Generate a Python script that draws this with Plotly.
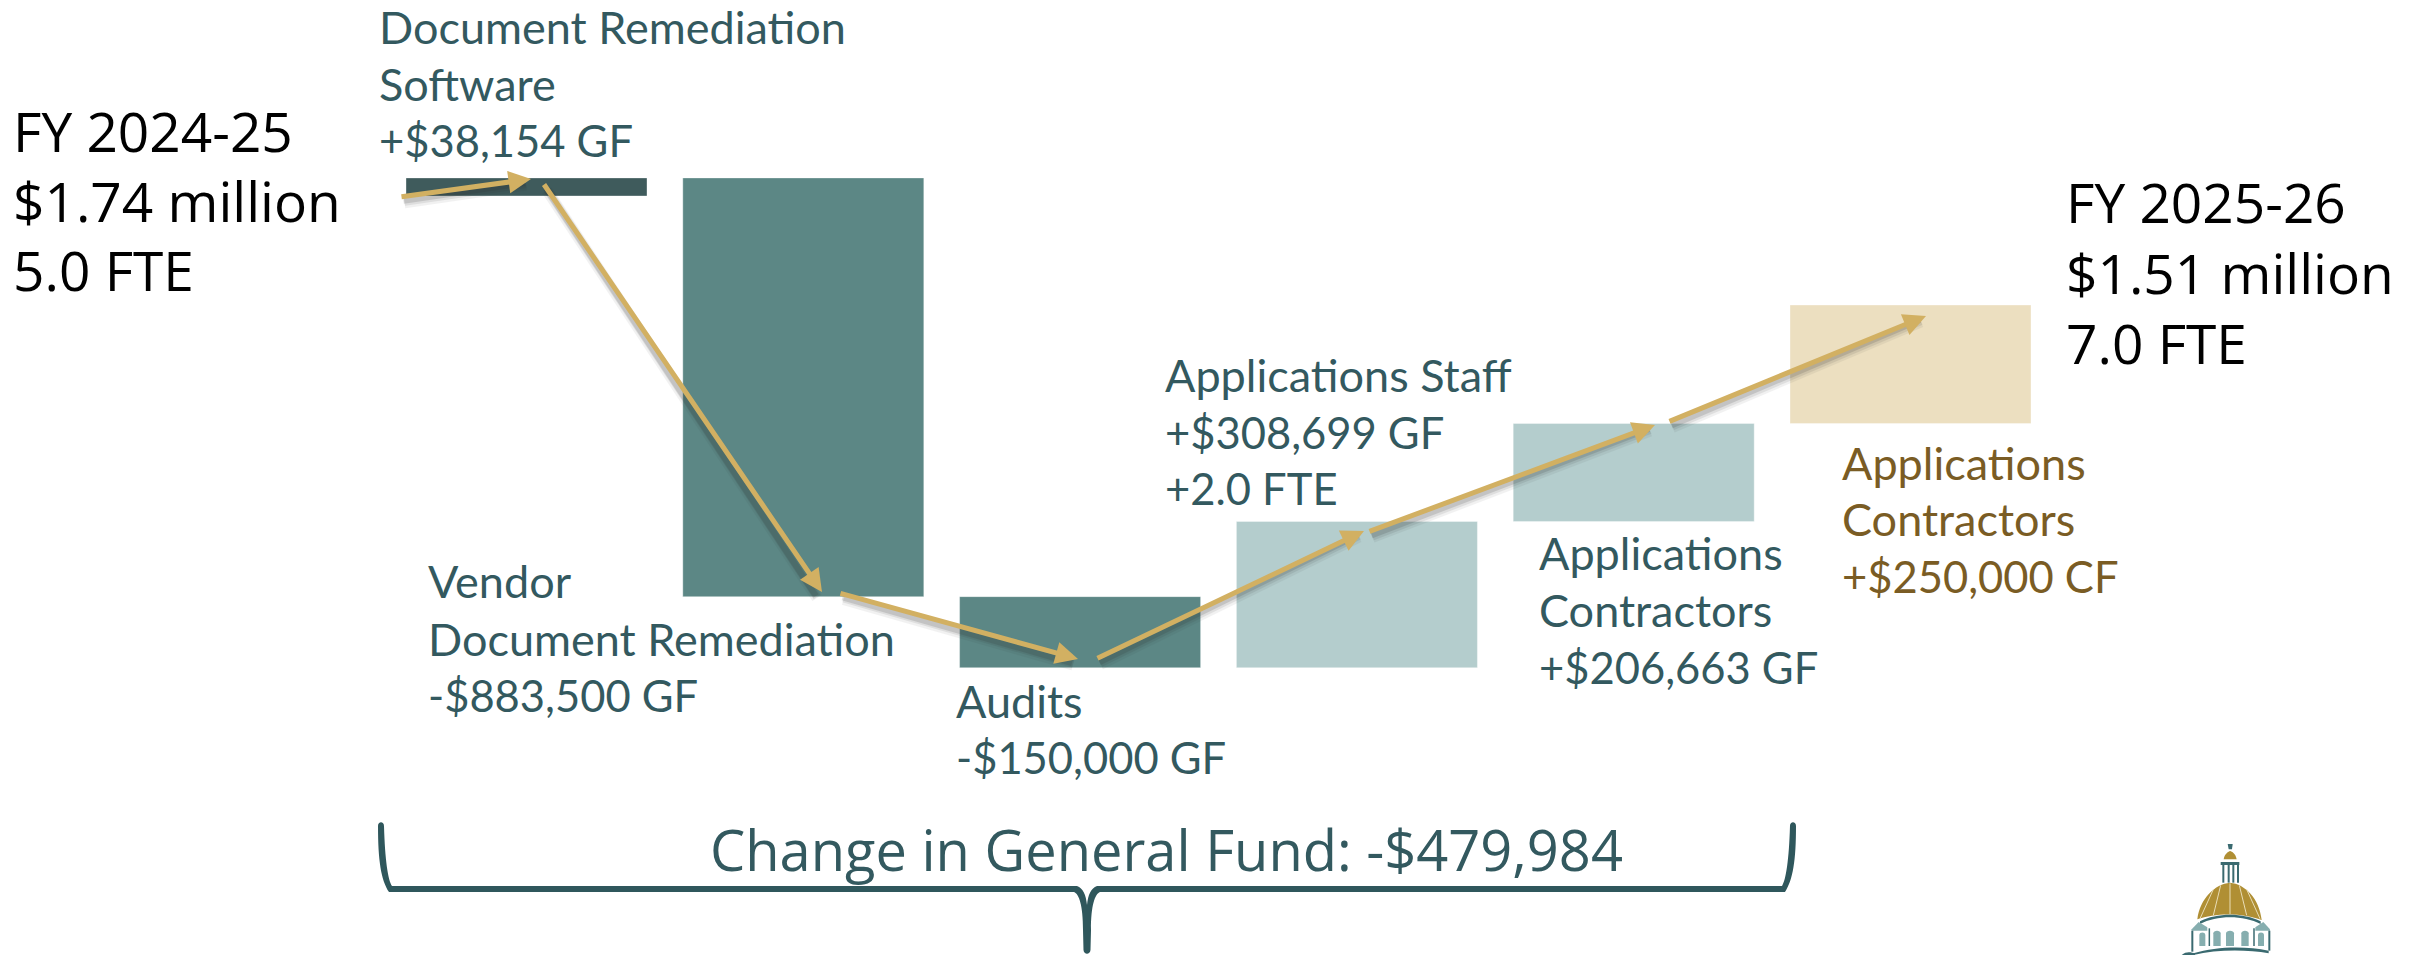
import plotly.graph_objects as go

W, H = 2425, 955

# ---- data ----
categories = ["Document Remediation Software", "Vendor Document Remediation", "Audits",
              "Applications Staff", "Applications Contractors GF", "Applications Contractors CF"]
start_value = 1740000
changes = [38154, -883500, -150000, 308699, 206663, 250000]
bar_colors = ["#3F5B5C", "#5C8785", "#5C8785", "#B4CDCD", "#B4CDCD", "#ECDFC0"]

teal = "#33595F"
brown = "#7A5C24"
black = "#000000"
gold = "#D2B062"

# text blocks: left x, colour, font, size, lines with centre y
label_x = [377, 426, 954, 1163, 1537, 1840, 11, 2064]
label_lines = [
    ["Document Remediation", "Software", "+$38,154 GF"],
    ["Vendor", "Document Remediation", "-$883,500 GF"],
    ["Audits", "-$150,000 GF"],
    ["Applications Staff", "+$308,699 GF", "+2.0 FTE"],
    ["Applications", "Contractors", "+$206,663 GF"],
    ["Applications", "Contractors", "+$250,000 CF"],
    ["FY 2024-25", "$1.74 million", "5.0 FTE"],
    ["FY 2025-26", "$1.51 million", "7.0 FTE"],
]
label_y = [
    [27, 84, 140], [581, 639, 695], [701, 757], [375, 432, 488],
    [553, 610, 667], [463, 519, 576], [130, 200, 270], [202, 272, 343],
]
label_color = [teal, teal, teal, teal, teal, brown, black, black]
label_font = ["Lato"] * 6 + ["Open Sans"] * 2
label_size = [45] * 6 + [55] * 2
number_size = 43.5
total_text = "Change in General Fund: -$479,984"

# arrows: tail and tip in page pixels
arrows = [
    (400, 197, 531, 179, 5),
    (543, 183, 822, 592, 5),
    (839, 593, 1078, 659, 5),
    (1096, 659, 1364, 531, 5),
    (1368, 532, 1655, 425, 5),
    (1668, 422, 1926, 316, 5),
]

# ---- waterfall geometry from the values ----
bases, heights = [], []
level = start_value
for c in changes:
    heights.append(abs(c))
    bases.append(level if c >= 0 else level + c)
    level += c

px_per_dollar = 1 / 2110
y_top = start_value + 196 / px_per_dollar
y_bottom = start_value - (H - 196) / px_per_dollar
x0_px, step_px = 526.5, 276.8

fig = go.Figure(go.Bar(
    x=categories, y=heights, base=bases,
    marker=dict(color=bar_colors, line=dict(color="rgba(255,255,255,0.35)", width=1)),
    width=241 / step_px, hoverinfo="skip",
))


def nx(x):
    return x / W


def ny(y):
    return 1 - y / H


annotations = []
for x, lines, ys, col, fam, size in zip(label_x, label_lines, label_y, label_color, label_font, label_size):
    for line, y in zip(lines, ys):
        s = number_size if fam == "Lato" and line[0] in "+-" else size
        annotations.append(dict(
            text=line, xref="paper", yref="paper", x=nx(x), y=ny(y),
            xanchor="left", yanchor="middle", showarrow=False,
            font=dict(family=fam, size=s, color=col),
        ))
annotations.append(dict(
    text=total_text, xref="paper", yref="paper", x=nx(1166), y=ny(849),
    xanchor="center", yanchor="middle", showarrow=False,
    font=dict(family="Open Sans", size=56, color=teal),
))

# soft shadows then the arrows
for dx, dy, alpha, extra in [(3, 6, 0.06, 6), (3, 5, 0.09, 3), (2, 4, 0.14, 1)]:
    for x0, y0, x1, y1, w in arrows:
        annotations.append(dict(
            text="", xref="paper", yref="paper", x=nx(x1 - 8 + dx), y=ny(y1 + dy),
            ax=x0 - x1 + 8, ay=y0 - y1, axref="pixel", ayref="pixel", showarrow=True,
            arrowhead=0, arrowwidth=w + extra, arrowcolor=f"rgba(40,40,40,{alpha})",
        ))
for x0, y0, x1, y1, w in arrows:
    annotations.append(dict(
        text="", xref="paper", yref="paper", x=nx(x1), y=ny(y1),
        ax=x0 - x1, ay=y0 - y1, axref="pixel", ayref="pixel", showarrow=True,
        arrowhead=2, arrowsize=0.9, arrowwidth=w, arrowcolor=gold, standoff=0,
    ))


def path(cmds):
    out = []
    for c in cmds:
        op, pts = c[0], c[1:]
        out.append(op + " " + " ".join(f"{nx(p[0]):.5f},{ny(p[1]):.5f}" for p in pts))
    return " ".join(out) + " Z"


shapes = []
# brace as a tapering filled outline, mirrored about its centre
cx = 1087


def mx(p):
    return (2 * cx - p[0], p[1])


brace = [
    ("M", (378, 826)), ("C", (378, 821), (384, 821), (384, 826)),
    ("C", (385, 860), (388, 880), (392, 886)),
    ("L", (1077, 886)), ("C", (1083, 888), (1086, 895), (cx, 905)),
    ("C", mx((1086, 895)), mx((1083, 888)), mx((1077, 886))),
    ("L", mx((392, 886))),
    ("C", mx((388, 880)), mx((385, 860)), mx((384, 826))),
    ("C", mx((384, 821)), mx((378, 821)), mx((378, 826))),
    ("C", mx((378, 860)), mx((381, 880)), mx((389, 892))),
    ("L", mx((1074, 892))), ("C", mx((1079, 894)), mx((1083, 905)), mx((1083, 930))),
    ("L", mx((1083.5, 950))), ("C", mx((1084, 955)), (1084, 955), (1083.5, 950)),
    ("L", (1083, 930)), ("C", (1083, 905), (1079, 894), (1074, 892)),
    ("L", (389, 892)), ("C", (381, 880), (378, 860), (378, 826)),
]
shapes.append(dict(type="path", xref="paper", yref="paper", path=path(brace),
                   fillcolor="#2F575C", line=dict(width=0)))


# capitol logo, in coordinates of a 3x crop
def L(x, y):
    return (2150 + x / 3, 820 + y / 3)


def fill(cmds, color):
    conv = [(c[0],) + tuple(L(*p) for p in c[1:]) for c in cmds]
    shapes.append(dict(type="path", xref="paper", yref="paper", path=path(conv),
                       fillcolor=color, line=dict(width=0)))


def stroke(a, b, color, w):
    pa, pb = L(*a), L(*b)
    shapes.append(dict(type="line", xref="paper", yref="paper",
                       x0=nx(pa[0]), y0=ny(pa[1]), x1=nx(pb[0]), y1=ny(pb[1]),
                       line=dict(color=color, width=w)))


ldark, lmid, lgold = "#3A6A70", "#86AEAF", "#B08F34"
fill([("M", (233, 72)), ("L", (248, 72)), ("L", (246, 88)), ("L", (236, 88))], ldark)
fill([("M", (221, 118)), ("C", (224, 100), (236, 95), (240, 93)), ("C", (246, 95), (257, 100), (260, 118))], lgold)
fill([("M", (212, 126)), ("L", (268, 126)), ("L", (268, 135)), ("L", (212, 135))], ldark)
for x in (220, 236, 250, 264):
    stroke((x, 133), (x, 188), ldark, 2)
fill([("M", (142, 298)), ("C", (150, 235), (195, 192), (240, 188)),
      ("C", (285, 192), (328, 235), (335, 300)), ("C", (280, 278), (195, 278), (142, 298))], lgold)
for a, b in [((240, 190), (240, 282)), ((212, 196), (190, 286)), ((268, 196), (290, 286)),
             ((190, 208), (150, 296)), ((290, 208), (330, 296))]:
    stroke(a, b, "#E9DDB6", 1)
fill([("M", (150, 312)), ("C", (200, 285), (280, 285), (332, 312)),
      ("L", (332, 304)), ("C", (280, 278), (200, 278), (150, 304))], ldark)
fill([("M", (125, 328)), ("L", (146, 306)), ("L", (172, 322)), ("L", (172, 332)), ("L", (125, 332))], lmid)
fill([("M", (360, 328)), ("L", (340, 306)), ("L", (316, 322)), ("L", (316, 332)), ("L", (360, 332))], lmid)
for x, half in ((157, 9), (201, 11), (240, 12), (285, 11), (333, 9)):
    top = 335 if x in (157, 333) else 330
    fill([("M", (x - half, 378)), ("L", (x - half, top + 10)),
          ("C", (x - half, top), (x + half, top), (x + half, top + 10)), ("L", (x + half, 378))], lmid)
stroke((127, 332), (127, 395), ldark, 2)
stroke((358, 332), (358, 392), ldark, 2)
stroke((178, 325), (178, 378), ldark, 1.5)
stroke((312, 325), (312, 378), ldark, 1.5)
fill([("M", (130, 400)), ("C", (200, 378), (290, 378), (356, 392)),
      ("L", (356, 400)), ("C", (290, 388), (200, 388), (130, 405))], ldark)
fill([("M", (95, 405)), ("C", (110, 392), (125, 398), (135, 400)), ("L", (135, 405))], ldark)

fig.update_layout(
    width=W, height=H, margin=dict(l=0, r=0, t=0, b=0),
    paper_bgcolor="white", plot_bgcolor="white", showlegend=False,
    hovermode=False, annotations=annotations, shapes=shapes,
    xaxis=dict(visible=False, type="category", categoryorder="array", categoryarray=categories,
               range=[-x0_px / step_px, (W - x0_px) / step_px], fixedrange=True),
    yaxis=dict(visible=False, range=[y_bottom, y_top], fixedrange=True),
)
fig.write_html("out.html", config=dict(displayModeBar=False),
               default_width=f"{W}px", default_height=f"{H}px",
               post_script="document.body.style.margin='0';document.body.style.overflow='hidden';")
